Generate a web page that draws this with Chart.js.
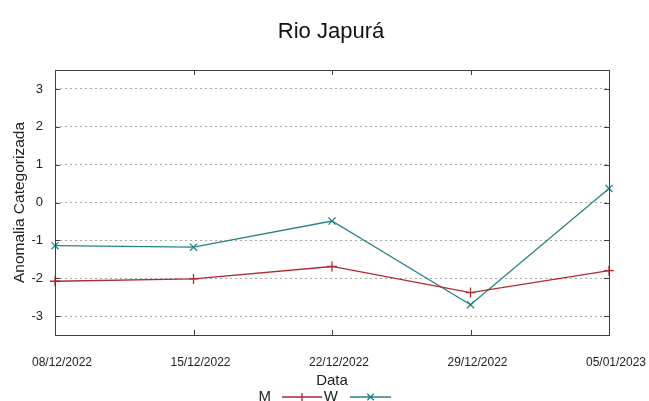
<!DOCTYPE html>
<html>
<head>
<meta charset="utf-8">
<script src="https://cdn.jsdelivr.net/npm/chart.js@4"></script>
<style>
  html, body { margin: 0; padding: 0; background: #ffffff; }
  #wrap { width: 649px; height: 401px; }
</style>
</head>
<body>
<div id="wrap"><canvas id="c" width="649" height="401"></canvas></div>
<script>
const categories = ["08/12/2022", "15/12/2022", "22/12/2022", "29/12/2022", "05/01/2023"];
const seriesM = [-2.08, -2.02, -1.69, -2.38, -1.80];
const seriesW = [-1.14, -1.18, -0.49, -2.70, 0.37];
const yTicks = [-3, -2, -1, 0, 1, 2, 3];
const seriesLabels = ["M", "W"];
const chartTitle = "Rio Japurá";
const yTitle = "Anomalia Categorizada";
const xTitle = "Data";

const FONT = "'Liberation Sans', Arial, sans-serif";
const RED = "#b02a2f";
const TEAL = "#238486";

const framePlugin = {
  id: 'frame',
  afterDraw(chart) {
    const ctx = chart.ctx;
    const a = chart.chartArea;
    const y = chart.scales.y;
    const x = chart.scales.x;
    ctx.save();
    ctx.strokeStyle = '#404040';
    ctx.lineWidth = 1;
    ctx.strokeRect(Math.round(a.left) + 0.5, Math.round(a.top) + 0.5,
                   Math.round(a.right - a.left), Math.round(a.bottom - a.top));
    ctx.beginPath();
    yTicks.forEach(v => {
      const py = Math.round(y.getPixelForValue(v)) + 0.5;
      ctx.moveTo(a.left, py); ctx.lineTo(a.left + 5, py);
      ctx.moveTo(a.right, py); ctx.lineTo(a.right - 5, py);
    });
    categories.forEach((c, i) => {
      const px = Math.round(x.getPixelForValue(i)) + 0.5;
      ctx.moveTo(px, a.bottom); ctx.lineTo(px, a.bottom - 5);
      ctx.moveTo(px, a.top); ctx.lineTo(px, a.top + 5);
    });
    ctx.stroke();
    // legend (gnuplot style: text then sample)
    const ds = chart.data.datasets;
    ctx.font = "15px " + FONT;
    ctx.textBaseline = 'middle';
    const ly = 397;
    const entries = [
      {textRight: 271, x0: 282, x1: 322},
      {textRight: 338, x0: 350, x1: 391}
    ];
    ds.forEach((d, i) => {
      const e = entries[i];
      ctx.fillStyle = '#222';
      ctx.textAlign = 'right';
      ctx.fillText(d.label, e.textRight, ly);
      ctx.strokeStyle = d.borderColor;
      ctx.lineWidth = 1.3;
      ctx.beginPath();
      ctx.moveTo(e.x0, ly); ctx.lineTo(e.x1, ly);
      const mx = (e.x0 + e.x1) / 2, r = 4;
      if (d.pointStyle === 'cross') {
        ctx.moveTo(mx - r, ly); ctx.lineTo(mx + r, ly);
        ctx.moveTo(mx, ly - r); ctx.lineTo(mx, ly + r);
      } else {
        ctx.moveTo(mx - r * 0.8, ly - r * 0.8); ctx.lineTo(mx + r * 0.8, ly + r * 0.8);
        ctx.moveTo(mx - r * 0.8, ly + r * 0.8); ctx.lineTo(mx + r * 0.8, ly - r * 0.8);
      }
      ctx.stroke();
    });
    ctx.restore();
  }
};

new Chart(document.getElementById('c'), {
  type: 'line',
  data: {
    labels: categories,
    datasets: [
      {
        label: seriesLabels[0], data: seriesM,
        borderColor: RED, backgroundColor: RED,
        borderWidth: 1.3, pointStyle: 'cross', pointRadius: 5,
        pointBorderWidth: 1.3, pointHoverRadius: 5, tension: 0, fill: false
      },
      {
        label: seriesLabels[1], data: seriesW,
        borderColor: TEAL, backgroundColor: TEAL,
        borderWidth: 1.3, pointStyle: 'crossRot', pointRadius: 5,
        pointBorderWidth: 1.3, pointHoverRadius: 5, tension: 0, fill: false
      }
    ]
  },
  options: {
    responsive: false,
    animation: false,
    events: [],
    layout: { padding: { left: 13, right: 0, top: 0, bottom: 0 } },
    plugins: {
      legend: { display: false },
      tooltip: { enabled: false },
      title: {
        display: true, text: chartTitle, color: '#111',
        font: { family: FONT, size: 22, weight: 'normal' },
        padding: { top: 18.5, bottom: 25.1 }
      }
    },
    scales: {
      x: {
        type: 'category',
        offset: false,
        grid: { display: false, drawTicks: false },
        border: { display: false },
        ticks: {
          color: '#222', font: { family: FONT, size: 12 },
          padding: 20, maxRotation: 0, autoSkip: false, labelOffset: 7
        },
        title: {
          display: true, text: xTitle, color: '#222',
          font: { family: FONT, size: 15 },
          padding: { top: 0, bottom: 11 }
        },
        afterFit(s) { s.height = 66; s.paddingLeft = 0; s.paddingRight = 0; }
      },
      y: {
        min: -3.5, max: 3.5,
        afterBuildTicks(s) { s.ticks = yTicks.map(v => ({ value: v })); },
        grid: {
          drawTicks: false, color: '#a8a8a8', lineWidth: 1
        },
        border: { display: false, dash: [2, 3] },
        ticks: {
          color: '#222', font: { family: FONT, size: 13 },
          padding: 12,
          callback: v => String(v)
        },
        title: {
          display: true, text: yTitle, color: '#222',
          font: { family: FONT, size: 15.5 },
          padding: { top: -3, bottom: 0 }
        },
        afterFit(s) { s.width = 42; }
      },
      yRight: {
        position: 'right',
        min: -3.5, max: 3.5,
        grid: { display: false, drawTicks: false },
        border: { display: false },
        ticks: { display: false },
        afterFit(s) { s.width = 40; }
      }
    }
  },
  plugins: [framePlugin]
});
</script>
</body>
</html>
